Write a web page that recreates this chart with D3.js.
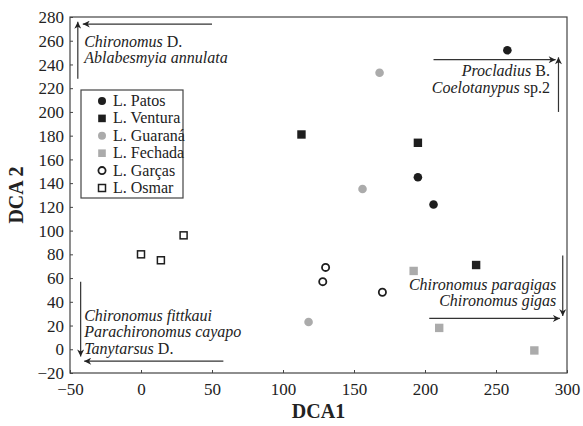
<!DOCTYPE html>
<html><head><meta charset="utf-8">
<script src="https://cdn.jsdelivr.net/npm/d3@7"></script>
<style>body{margin:0;background:#fff}svg{display:block}svg text{font-family:"Liberation Serif",serif !important;fill:#222}</style>
</head><body><svg id="c" width="583" height="426" font-family="Liberation Serif"></svg>
<script>
// ---- data ----
const series = ["L. Patos","L. Ventura","L. Guaraná","L. Fechada","L. Garças","L. Osmar"];
const patosX = [258,195,206],       patosY = [252,145,122];
const venturaX = [113,195,236],     venturaY = [181,174,71];
const guaranaX = [168,156,118],     guaranaY = [233,135,23];
const fechadaX = [192,210,277],     fechadaY = [66,18,-1];
const garcasX = [130,128,170],      garcasY = [69,57,48];
const osmarX = [0,14,30],           osmarY = [80,75,96];
const xTicks = [-50,0,50,100,150,200,250,300];
const yTicks = [-20,0,20,40,60,80,100,120,140,160,180,200,220,240,260,280];
// annotation arrows (data units): [x1,y1,x2,y2] head at x2,y2
const arrows = [
  [50,274,-41,274],[-44.5,228,-44.5,276],
  [206,244,292,244],[294,200,294,246],
  [58,-10,-40,-10],[-42.5,57,-42.5,-6],
  [203,26,295,26],[297,79,297,28]
];
const notes = [
  {lines:[["Chironomus"," D."],["Ablabesmyia annulata",""]], x:-40, y:255, anchor:"start"},
  {lines:[["Procladius"," B."],["Coelotanypus"," sp.2"]], x:288, y:230, anchor:"end"},
  {lines:[["Chironomus fittkaui",""],["Parachironomus cayapo",""],["Tanytarsus"," D."]], x:-40, y:24, anchor:"start"},
  {lines:[["Chironomus paragigas",""],["Chironomus gigas",""]], x:292.5, y:50, anchor:"end"}
];

const styles = [
  {shape:"circle", fill:"#1e1e1e", stroke:"none"},
  {shape:"square", fill:"#1e1e1e", stroke:"none"},
  {shape:"circle", fill:"#ababab", stroke:"none"},
  {shape:"square", fill:"#ababab", stroke:"none"},
  {shape:"circle", fill:"none", stroke:"#1e1e1e"},
  {shape:"square", fill:"none", stroke:"#1e1e1e"}
];
const allX=[patosX,venturaX,guaranaX,fechadaX,garcasX,osmarX];
const allY=[patosY,venturaY,guaranaY,fechadaY,garcasY,osmarY];

const FF="Liberation Serif";
const svg=d3.select("#c");
const m={l:70,r:16,t:17,b:53}, W=583, H=426;
const x=d3.scaleLinear().domain([-50,300]).range([m.l,W-m.r]);
const y=d3.scaleLinear().domain([-20,280]).range([H-m.b,m.t]);

svg.append("defs").append("marker").attr("id","ah").attr("viewBox","0 0 10 10")
 .attr("refX",10).attr("refY",5).attr("markerWidth",11).attr("markerHeight",7)
 .attr("markerUnits","userSpaceOnUse").attr("orient","auto")
 .append("path").attr("d","M0,0 L10,5 L0,10 L3,5 Z").attr("fill","#222");

// frame
svg.append("rect").attr("x",x(-50)).attr("y",y(280)).attr("width",x(300)-x(-50)).attr("height",y(-20)-y(280))
 .attr("fill","none").attr("stroke","#444").attr("stroke-width",1.2);

const xa=svg.append("g").attr("transform",`translate(0,${y(-20)})`)
 .call(d3.axisBottom(x).tickValues(xTicks).tickSizeInner(-3).tickSizeOuter(0).tickPadding(8).tickFormat(d3.format("d")));
const ya=svg.append("g").attr("transform",`translate(${x(-50)},0)`)
 .call(d3.axisLeft(y).tickValues(yTicks).tickSizeInner(-3).tickSizeOuter(0).tickPadding(6).tickFormat(d3.format("d")));
[xa,ya].forEach(a=>{a.attr("font-family",FF).attr("font-size",null);a.select(".domain").remove();a.selectAll("line").attr("stroke","#444");
  a.selectAll("text").attr("font-family",FF).style("font-size","17px").attr("fill","#222");});
xa.selectAll("text").attr("dy","0.85em");
ya.selectAll("text").attr("dy","0.33em");

svg.append("text").attr("x",(x(-50)+x(300))/2).attr("y",418).attr("text-anchor","middle").attr("font-family",FF)
 .style("font-size","20px").style("font-weight","bold").text("DCA1");
svg.append("text").attr("transform",`translate(23,${(y(-20)+y(280))/2}) rotate(-90)`).attr("text-anchor","middle").attr("font-family",FF)
 .style("font-size","20px").style("font-weight","bold").text("DCA 2");

// arrows
svg.selectAll("line.arr").data(arrows).join("line").attr("class","arr")
 .attr("x1",d=>x(d[0])).attr("y1",d=>y(d[1])).attr("x2",d=>x(d[2])).attr("y2",d=>y(d[3]))
 .attr("stroke","#333").attr("stroke-width",1.2).attr("marker-end","url(#ah)");

// notes
notes.forEach(n=>{
  n.lines.forEach((ln,i)=>{
    const t=svg.append("text").attr("x",x(n.x)).attr("y",y(n.y)+i*16.5).attr("text-anchor",n.anchor).attr("font-family",FF).style("font-size","16px");
    t.append("tspan").style("font-style","italic").text(ln[0]);
    if(ln[1]) t.append("tspan").text(ln[1]);
  });
});

function draw(g,s,cx,cy,big){
  const r=big?4.3:4, h=big?4.2:3.8;
  if(s.shape==="circle"){
    g.append("circle").attr("cx",cx).attr("cy",cy).attr("r",s.fill==="none"?3.6:r)
     .attr("fill",s.fill).attr("stroke",s.stroke).attr("stroke-width",1.8);
  } else {
    const hh=s.fill==="none"?3.5:h;
    g.append("rect").attr("x",cx-hh).attr("y",cy-hh).attr("width",2*hh).attr("height",2*hh)
     .attr("fill",s.fill).attr("stroke",s.stroke).attr("stroke-width",1.5);
  }
}
const pg=svg.append("g");
styles.forEach((s,i)=>{ allX[i].forEach((vx,j)=>draw(pg,s,x(vx),y(allY[i][j]),true)); });

// legend
const lg=svg.append("g");
lg.append("rect").attr("x",81).attr("y",90).attr("width",102).attr("height",108).attr("fill","#fff").attr("stroke","#444").attr("stroke-width",1.2);
series.forEach((nm,i)=>{
  const cy=101+i*17.4;
  draw(lg,styles[i],102,cy,false);
  lg.append("text").attr("x",113).attr("y",cy+5).attr("font-family",FF).style("font-size","16px").text(nm);
});
</script></body></html>
